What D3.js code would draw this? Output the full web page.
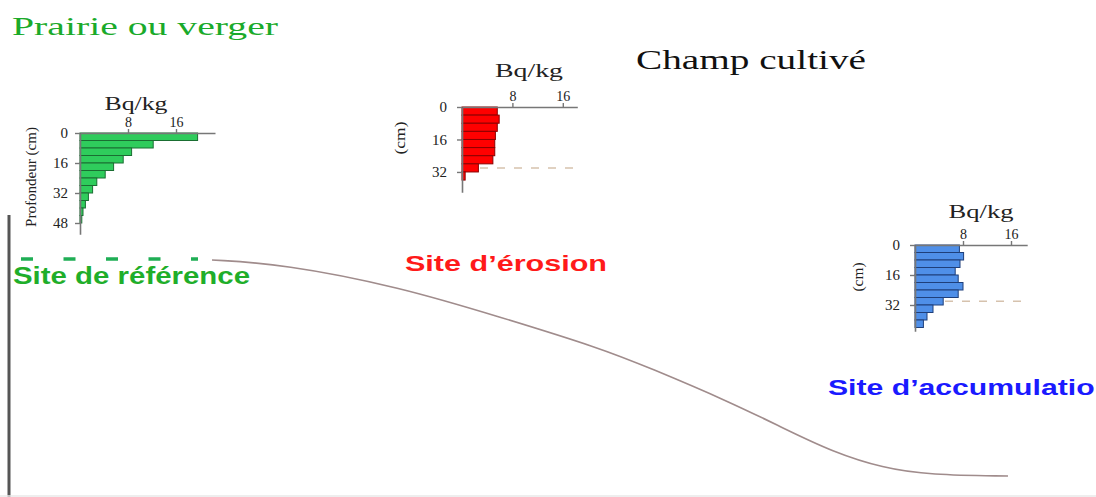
<!DOCTYPE html>
<html>
<head>
<meta charset="utf-8">
<script src="https://cdn.jsdelivr.net/npm/d3@7"></script>
<style>
  body { margin: 0; background: #fff; }
  svg { display: block; font-family: "Liberation Serif", "Times New Roman", serif; }
</style>
</head>
<body>
<div id="chart"></div>
<script>
// activité (Bq/kg) par tranche de 4 cm de profondeur
const depthStep = 4;
const reference = [19.6, 12.2, 8.6, 7.2, 5.6, 4.2, 2.8, 2.1, 1.4, 0.9, 0.5, 0.3];
const erosion = [5.6, 5.9, 5.6, 5.3, 5.2, 5.2, 4.9, 2.6, 0.5];
const accumulation = [7.4, 8.1, 7.5, 6.7, 7.2, 8.0, 7.2, 4.7, 3.0, 2.0, 1.4];
const xTicks = [8, 16];
const depthTicks = [0, 16, 32, 48];
const plowDepth = 30;

// profil du versant : distance, altitude relative
const profil = [
  [2, 218], [2, 218], [73, 214], [190, 191], [290, 161], [390, 130], [440, 110],
  [520, 76], [573, 50], [623, 26], [673, 10], [720, 3], [798, 2], [798, 2]
];

const width = 1096, height = 497;

const svg = d3.select("#chart").append("svg")
  .attr("width", width)
  .attr("height", height);

svg.append("rect").attr("width", width).attr("height", height).attr("fill", "#fff");

// bord gauche + ligne du bas
svg.append("line").attr("x1", 9).attr("x2", 9).attr("y1", 215).attr("y2", height)
  .attr("stroke", "#555").attr("stroke-width", 3);
svg.append("line").attr("x1", 0).attr("x2", width).attr("y1", 496).attr("y2", 496)
  .attr("stroke", "#e8e8e8").attr("stroke-width", 1.5);

// versant
const px = d3.scaleLinear().domain([0, 800]).range([210, 1010]);
const py = d3.scaleLinear().domain([0, 220]).range([478, 258]);
svg.append("path")
  .datum(profil)
  .attr("d", d3.line().x(d => px(d[0])).y(d => py(d[1])).curve(d3.curveBasis))
  .attr("fill", "none")
  .attr("stroke", "#a08c8c")
  .attr("stroke-width", 1.6);

function drawProfile(cfg) {
  const g = svg.append("g");
  const x = d3.scaleLinear().domain([0, cfg.xMax]).range([cfg.ox, cfg.ox + cfg.xMax * cfg.kx]);
  const y = d3.scaleLinear().domain([0, cfg.dMax]).range([cfg.oy, cfg.oy + cfg.dMax * cfg.ky]);

  if (cfg.dash) {
    g.append("line")
      .attr("x1", cfg.dash[0]).attr("x2", x(cfg.xMax))
      .attr("y1", y(plowDepth)).attr("y2", y(plowDepth))
      .attr("stroke", "#d6c2ad").attr("stroke-width", 1.5)
      .attr("stroke-dasharray", "8,9");
  }

  g.selectAll("rect.bar").data(cfg.values).enter().append("rect")
    .attr("class", "bar")
    .attr("x", x(0))
    .attr("y", (d, i) => y(i * depthStep))
    .attr("width", d => x(d) - x(0))
    .attr("height", y(depthStep) - y(0))
    .attr("fill", cfg.fill)
    .attr("stroke", cfg.stroke)
    .attr("stroke-width", 1);

  const top = g.append("g").attr("transform", "translate(0," + cfg.oy + ")")
    .call(d3.axisTop(x).tickValues(xTicks).tickSize(4).tickSizeOuter(0).tickPadding(2));
  const left = g.append("g").attr("transform", "translate(" + cfg.ox + ",0)")
    .call(d3.axisLeft(y).tickValues(cfg.depthTicks).tickSize(5).tickSizeOuter(0).tickPadding(cfg.pad));

  [top, left].forEach(a => {
    a.select(".domain").attr("stroke", "#777").attr("stroke-width", 1.6);
    a.selectAll(".tick line").attr("stroke", "#777").attr("stroke-width", 1.4);
    a.selectAll("text").attr("font-family", "Liberation Serif, serif").attr("fill", "#222");
  });
  top.selectAll("text").attr("font-size", 14);
  left.selectAll("text").attr("font-size", 15);

  g.append("text")
    .attr("x", cfg.ox + cfg.unitDx).attr("y", cfg.oy - cfg.unitDy)
    .attr("text-anchor", "middle")
    .attr("font-size", 18)
    .attr("fill", "#222")
    .attr("textLength", cfg.unitLen).attr("lengthAdjust", "spacingAndGlyphs")
    .text("Bq/kg");

  g.append("text")
    .attr("transform", "translate(" + cfg.yLab[0] + "," + cfg.yLab[1] + ") rotate(-90)")
    .attr("text-anchor", "middle")
    .attr("font-size", 14)
    .attr("fill", "#222")
    .attr("textLength", cfg.yLab[3]).attr("lengthAdjust", "spacingAndGlyphs")
    .text(cfg.yLab[2]);
}

drawProfile({
  values: reference, ox: 80, oy: 133, kx: 6, ky: 1.875, xMax: 22.5, dMax: 54,
  depthTicks: depthTicks, pad: 7,
  fill: "#2fcc5c", stroke: "#1a6e32",
  unitDx: 56, unitDy: 23, unitLen: 63,
  yLab: [36, 177, "Profondeur (cm)", 100]
});

drawProfile({
  values: erosion, ox: 462, oy: 107, kx: 6.3, ky: 2.03, xMax: 18.3, dMax: 42,
  depthTicks: [0, 16, 32], pad: 10,
  fill: "#ff0000", stroke: "#8a0000",
  unitDx: 67, unitDy: 30, unitLen: 68,
  yLab: [405, 138, "(cm)", 33],
  dash: [480]
});

drawProfile({
  values: accumulation, ox: 915, oy: 245, kx: 6, ky: 1.875, xMax: 18.7, dMax: 46,
  depthTicks: [0, 16, 32], pad: 10,
  fill: "#4f8fe8", stroke: "#1f3f7a",
  unitDx: 66, unitDy: 27, unitLen: 65,
  yLab: [863, 277, "(cm)", 29],
  dash: [945]
});

// repère du site de référence
svg.append("line")
  .attr("x1", 21).attr("x2", 198).attr("y1", 259).attr("y2", 259)
  .attr("stroke", "#1fae55").attr("stroke-width", 3.5)
  .attr("stroke-dasharray", "12,30.5");

// titres
svg.append("text").attr("x", 12).attr("y", 35)
  .attr("font-size", 25).attr("fill", "#1aaa2a")
  .attr("textLength", 266).attr("lengthAdjust", "spacingAndGlyphs")
  .text("Prairie ou verger");

svg.append("text").attr("x", 636).attr("y", 69)
  .attr("font-size", 27).attr("fill", "#111")
  .attr("textLength", 230).attr("lengthAdjust", "spacingAndGlyphs")
  .text("Champ cultivé");

const sans = "Liberation Sans, Arial, sans-serif";
svg.append("text").attr("x", 13).attr("y", 284)
  .attr("font-family", sans).attr("font-weight", "bold")
  .attr("font-size", 23).attr("fill", "#1fae2a")
  .attr("textLength", 237).attr("lengthAdjust", "spacingAndGlyphs")
  .text("Site de référence");

svg.append("text").attr("x", 405).attr("y", 271)
  .attr("font-family", sans).attr("font-weight", "bold")
  .attr("font-size", 22).attr("fill", "#ff1a1a")
  .attr("textLength", 202).attr("lengthAdjust", "spacingAndGlyphs")
  .text("Site d’érosion");

svg.append("text").attr("x", 828).attr("y", 395)
  .attr("font-family", sans).attr("font-weight", "bold")
  .attr("font-size", 22).attr("fill", "#1a1aff")
  .attr("textLength", 285).attr("lengthAdjust", "spacingAndGlyphs")
  .text("Site d’accumulation");
</script>
</body>
</html>
